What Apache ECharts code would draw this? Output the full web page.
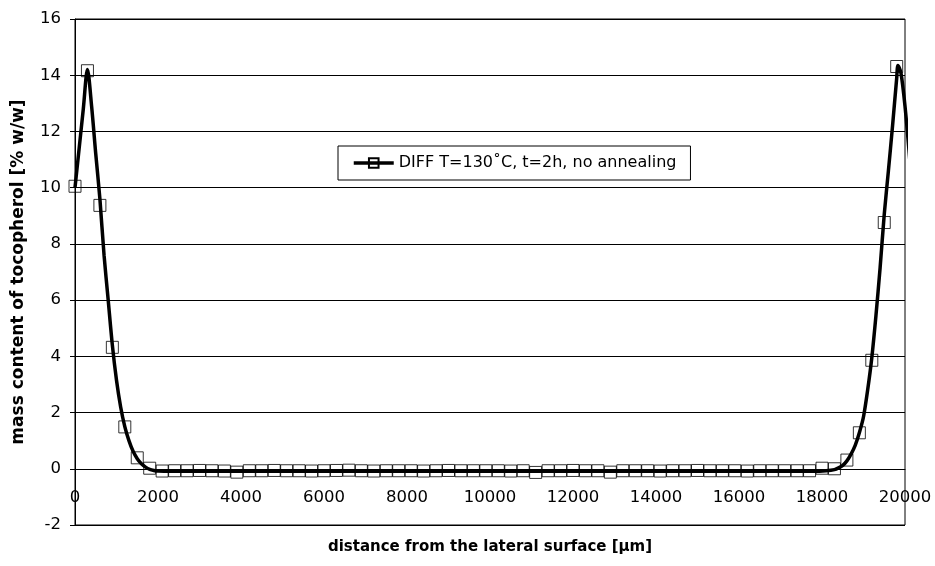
<!DOCTYPE html>
<html>
<head>
<meta charset="utf-8">
<script src="https://cdn.jsdelivr.net/npm/echarts@6/dist/echarts.min.js"></script>
<style>
  html, body { margin: 0; padding: 0; background: #fff; }
  #chart { width: 935px; height: 566px; }
</style>
</head>
<body>
<div id="chart"></div>
<script>
// Measured tocopherol content (markers), position in µm
const markerX = [
  0, 300, 600, 900, 1200, 1500, 1800, 2100, 2400, 2700, 3000, 3300, 3600, 3900,
  4200, 4500, 4800, 5100, 5400, 5700, 6000, 6300, 6600, 6900, 7200, 7500, 7800,
  8100, 8400, 8700, 9000, 9300, 9600, 9900, 10200, 10500, 10800, 11100, 11400,
  11700, 12000, 12300, 12600, 12900, 13200, 13500, 13800, 14100, 14400, 14700,
  15000, 15300, 15600, 15900, 16200, 16500, 16800, 17100, 17400, 17700, 18000,
  18300, 18600, 18900, 19200, 19500, 19800
];
const markerY = [
  10.05, 14.16, 9.37, 4.32, 1.49, 0.39, 0.02, -0.08, -0.07, -0.07, -0.06, -0.07,
  -0.08, -0.12, -0.07, -0.07, -0.06, -0.07, -0.07, -0.08, -0.07, -0.06, -0.05,
  -0.07, -0.08, -0.07, -0.07, -0.07, -0.08, -0.07, -0.06, -0.07, -0.07, -0.07,
  -0.07, -0.08, -0.07, -0.13, -0.07, -0.07, -0.06, -0.07, -0.07, -0.12, -0.07,
  -0.07, -0.07, -0.08, -0.07, -0.07, -0.06, -0.07, -0.07, -0.07, -0.08, -0.07,
  -0.07, -0.07, -0.07, -0.07, 0.02, 0.0, 0.31, 1.28, 3.86, 8.76, 14.31
];

// Diffusion model profile (solid curve)
const curveX = [
  0, 100, 200, 300, 400, 500, 600, 700, 800, 900, 1000, 1100, 1200, 1300, 1400,
  1500, 1600, 1700, 1800, 1900, 2000, 2300, 4000, 8000, 12000, 16000, 17800,
  18100, 18300, 18400, 18500, 18600, 18700, 18800, 18900, 19000, 19100, 19200,
  19300, 19400, 19500, 19600, 19700, 19800, 19830, 19900, 20000, 20120
];
const curveY = [
  10.0, 11.4, 12.8, 14.2, 12.9, 11.2, 9.6, 7.6, 6.0, 4.4, 3.15, 2.2, 1.5, 1.0,
  0.62, 0.36, 0.18, 0.06, -0.02, -0.06, -0.08, -0.09, -0.09, -0.09, -0.09, -0.09,
  -0.09, -0.07, -0.03, 0.03, 0.12, 0.28, 0.52, 0.83, 1.28, 1.85, 2.8, 3.95, 5.45,
  7.15, 9.05, 10.6, 12.2, 13.9, 14.35, 14.1, 12.9, 10.9
];

const seriesName = 'DIFF T=130˚C, t=2h, no annealing';
const yTicks = { min: -2, max: 16, step: 2 };
const xTicks = { min: 0, max: 20000, step: 2000 };

const curveData = curveX.map((x, i) => [x, curveY[i]]);
const markerData = markerX.map((x, i) => [x, markerY[i]]);

const font = '"DejaVu Sans", Verdana, sans-serif';
const chart = echarts.init(document.getElementById('chart'), null, { renderer: 'canvas' });

// plot frame: 75..905 px horizontally, 19..525 px vertically
const gridTop = 19, gridBottom = 41;
const plotH = 566 - gridTop - gridBottom;
// the horizontal axis crosses the vertical one at y = 0
const zeroOffset = -plotH * (0 - yTicks.min) / (yTicks.max - yTicks.min);

chart.setOption({
  backgroundColor: '#ffffff',
  animation: false,
  grid: {
    left: 75, right: 30, top: gridTop, bottom: gridBottom,
    show: true, borderColor: '#000', borderWidth: 1, backgroundColor: 'transparent'
  },
  legend: {
    data: [seriesName],
    left: 338, top: 146,
    padding: [9, 14, 9, 14],
    itemWidth: 40, itemHeight: 12, itemGap: 4,
    backgroundColor: '#fff',
    borderColor: '#000', borderWidth: 1, borderRadius: 0,
    lineStyle: { width: 3.5, color: '#000' },
    textStyle: { fontFamily: font, fontSize: 16, color: '#000' }
  },
  xAxis: {
    type: 'value',
    min: xTicks.min, max: xTicks.max, interval: xTicks.step,
    offset: zeroOffset,
    axisLine: { onZero: false, lineStyle: { color: '#000', width: 1 } },
    axisTick: { show: false },
    splitLine: { show: false },
    axisLabel: {
      margin: 20, fontFamily: font, fontSize: 16.5, color: '#000',
      formatter: v => String(v)
    }
  },
  yAxis: {
    type: 'value',
    min: yTicks.min, max: yTicks.max, interval: yTicks.step,
    axisLine: { show: true, onZero: false, lineStyle: { color: '#000', width: 1 } },
    axisTick: { show: true, inside: false, length: 5, lineStyle: { color: '#000' } },
    splitLine: { show: true, lineStyle: { color: '#000', width: 1 } },
    axisLabel: { margin: 14, fontFamily: font, fontSize: 16.5, color: '#000' }
  },
  graphic: [
    {
      type: 'text', x: 490, y: 547,
      style: {
        text: 'distance from the lateral surface [µm]',
        font: 'bold 15px ' + font, fill: '#000',
        align: 'center', verticalAlign: 'middle'
      }
    },
    {
      type: 'text',
      x: 19, y: 272, rotation: Math.PI / 2,
      style: {
        text: 'mass content of tocopherol [% w/w]',
        font: 'bold 17px ' + font, fill: '#000',
        align: 'center', verticalAlign: 'middle'
      }
    }
  ],
  series: [
    {
      name: seriesName,
      type: 'line',
      data: curveData,
      smooth: 0.3,
      clip: false,
      showSymbol: false,
      symbol: 'rect',
      symbolSize: 11,
      lineStyle: { color: '#000', width: 3.5 },
      itemStyle: { color: 'rgba(0,0,0,0)', borderColor: '#000', borderWidth: 1.2 },
      z: 3
    },
    {
      name: seriesName,
      type: 'scatter',
      data: markerData,
      symbol: 'rect',
      symbolSize: 12,
      itemStyle: { color: 'rgba(0,0,0,0)', borderColor: '#000', borderWidth: 1 },
      z: 4
    }
  ]
});
</script>
</body>
</html>
